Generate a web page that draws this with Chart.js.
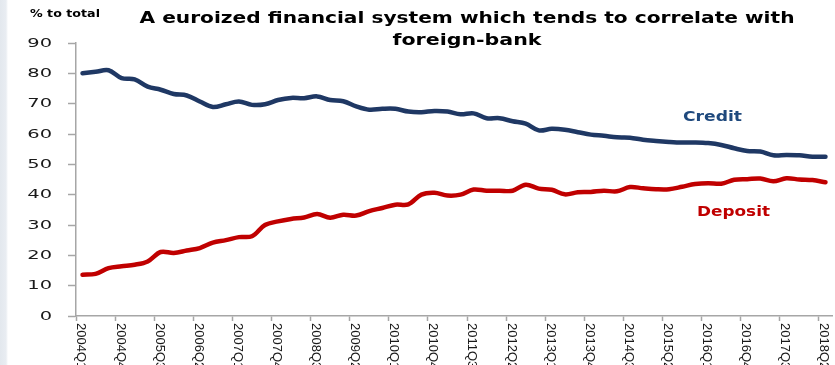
<!DOCTYPE html>
<html>
<head>
<meta charset="utf-8">
<script src="https://cdn.jsdelivr.net/npm/chart.js@4"></script>
<style>
  html, body { margin: 0; padding: 0; overflow: hidden; }
  body {
    width: 835px; height: 365px;
    background: linear-gradient(to right, #e3e8ee 0px, #e9edf2 6px, #ffffff 8px);
  }
  #wrap { position: relative; width: 835px; height: 365px; }
</style>
</head>
<body>
<div id="wrap"><canvas id="euroChart"></canvas></div>
<script>
// quarterly data, % to total
const quarters = [
  '2004Q1','2004Q2','2004Q3','2004Q4','2005Q1','2005Q2','2005Q3','2005Q4',
  '2006Q1','2006Q2','2006Q3','2006Q4','2007Q1','2007Q2','2007Q3','2007Q4',
  '2008Q1','2008Q2','2008Q3','2008Q4','2009Q1','2009Q2','2009Q3','2009Q4',
  '2010Q1','2010Q2','2010Q3','2010Q4','2011Q1','2011Q2','2011Q3','2011Q4',
  '2012Q1','2012Q2','2012Q3','2012Q4','2013Q1','2013Q2','2013Q3','2013Q4',
  '2014Q1','2014Q2','2014Q3','2014Q4','2015Q1','2015Q2','2015Q3','2015Q4',
  '2016Q1','2016Q2','2016Q3','2016Q4','2017Q1','2017Q2','2017Q3','2017Q4',
  '2018Q1','2018Q2'
];

const credit = [
  80.0, 80.5, 81.0, 78.4, 78.0, 75.6, 74.6, 73.2, 72.7, 70.7,
  68.9, 69.8, 70.7, 69.6, 69.8, 71.2, 71.9, 71.8, 72.4, 71.2,
  70.8, 69.1, 68.0, 68.3, 68.3, 67.4, 67.2, 67.6, 67.4, 66.5,
  66.8, 65.2, 65.2, 64.2, 63.4, 61.2, 61.7, 61.4, 60.6, 59.8,
  59.4, 58.9, 58.8, 58.1, 57.7, 57.4, 57.2, 57.2, 57.0, 56.4,
  55.3, 54.4, 54.2, 53.0, 53.1, 53.0, 52.5, 52.5
];

const deposit = [
  13.6, 13.9, 15.8, 16.4, 16.9, 18.0, 21.1, 20.8, 21.6, 22.4,
  24.2, 25.0, 26.0, 26.3, 30.0, 31.2, 32.0, 32.5, 33.6, 32.4,
  33.4, 33.1, 34.6, 35.6, 36.7, 36.8, 40.0, 40.6, 39.7, 40.0,
  41.7, 41.3, 41.3, 41.3, 43.3, 42.0, 41.6, 40.1, 40.8, 40.9,
  41.3, 41.1, 42.5, 42.1, 41.8, 41.8, 42.6, 43.5, 43.8, 43.6,
  44.9, 45.1, 45.3, 44.4, 45.4, 45.0, 44.8, 44.1
];

const yTicks = [0, 10, 20, 30, 40, 50, 60, 70, 80, 90];

const navy = '#1f3864';
const red = '#c00000';
const axisGray = '#a6a6a6';

// draw text squeezed/stretched to a given width (the source fonts are wide)
function wideText(ctx, text, x, y, font, color, width, align) {
  ctx.save();
  ctx.font = font;
  ctx.fillStyle = color;
  ctx.textAlign = align || 'left';
  ctx.textBaseline = 'alphabetic';
  const w = ctx.measureText(text).width;
  ctx.translate(x, y);
  ctx.scale(width / w, 1);
  ctx.fillText(text, 0, 0);
  ctx.restore();
}

const textPlugin = {
  id: 'textPlugin',
  afterDraw(chart) {
    const ctx = chart.ctx;
    const xs = chart.scales.x;
    const ys = chart.scales.y;

    // y tick labels
    ctx.save();
    ctx.font = '12px "DejaVu Sans"';
    ctx.fillStyle = '#1a1a1a';
    ctx.textAlign = 'right';
    ctx.textBaseline = 'middle';
    yTicks.forEach(v => {
      ctx.save();
      ctx.translate(ys.left - 16, ys.getPixelForValue(v) + 0.5);
      ctx.scale(1.62, 1);
      ctx.fillText(String(v), 0, 0);
      ctx.restore();
    });
    ctx.restore();

    // x labels, every third quarter, reading downwards
    ctx.save();
    ctx.font = '13px "Liberation Sans"';
    ctx.fillStyle = '#1a1a1a';
    ctx.textAlign = 'left';
    ctx.textBaseline = 'middle';
    quarters.forEach((q, i) => {
      if (i % 3 !== 0) return;
      ctx.save();
      ctx.translate(xs.getPixelForValue(i) - 1.5, xs.top + 7);
      ctx.rotate(Math.PI / 2);
      ctx.fillText(q, 0, 0);
      ctx.restore();
    });
    ctx.restore();

    wideText(ctx, '% to total', 30, 17, 'bold 11px "DejaVu Sans"', '#000', 70);
    wideText(ctx, 'A euroized financial system which tends to correlate with', 467, 23, 'bold 16px "DejaVu Sans"', '#000', 655, 'center');
    wideText(ctx, 'foreign-bank', 467, 45, 'bold 16px "DejaVu Sans"', '#000', 149, 'center');
    wideText(ctx, 'Credit', 683, 121, 'bold 14px "DejaVu Sans"', '#1f497d', 59);
    wideText(ctx, 'Deposit', 697, 216, 'bold 14px "DejaVu Sans"', red, 73);
  }
};

const ctx = document.getElementById('euroChart').getContext('2d');
const chart = new Chart(ctx, {
  type: 'line',
  data: {
    labels: quarters,
    datasets: [
      {
        label: 'Credit',
        data: credit,
        borderColor: navy,
        borderWidth: 4.5,
        tension: 0.35,
        pointRadius: 0,
        borderCapStyle: 'round',
        borderJoinStyle: 'round',
        fill: false
      },
      {
        label: 'Deposit',
        data: deposit,
        borderColor: red,
        borderWidth: 4.5,
        tension: 0.35,
        pointRadius: 0,
        borderCapStyle: 'round',
        borderJoinStyle: 'round',
        fill: false
      }
    ]
  },
  options: {
    responsive: true,
    maintainAspectRatio: false,
    animation: false,
    layout: { padding: { left: 68, right: 3, top: 43, bottom: 44 } },
    plugins: {
      legend: { display: false },
      title: { display: false },
      tooltip: { enabled: false }
    },
    scales: {
      x: {
        offset: true,
        border: { display: true, color: axisGray, width: 1.5 },
        grid: {
          offset: true,
          drawOnChartArea: false,
          drawTicks: true,
          tickLength: 5,
          tickWidth: 1.5,
          tickColor: c => (c.index !== undefined && c.index % 3 === 0) ? axisGray : 'rgba(0,0,0,0)'
        },
        ticks: { display: false, autoSkip: false }
      },
      y: {
        min: 0,
        max: 90,
        ticks: { display: false, stepSize: 10 },
        border: { display: true, color: axisGray, width: 1.5 },
        grid: {
          drawOnChartArea: false,
          drawTicks: true,
          tickLength: 8,
          tickWidth: 1.5,
          tickColor: axisGray
        }
      }
    }
  },
  plugins: [textPlugin]
});
</script>
</body>
</html>
